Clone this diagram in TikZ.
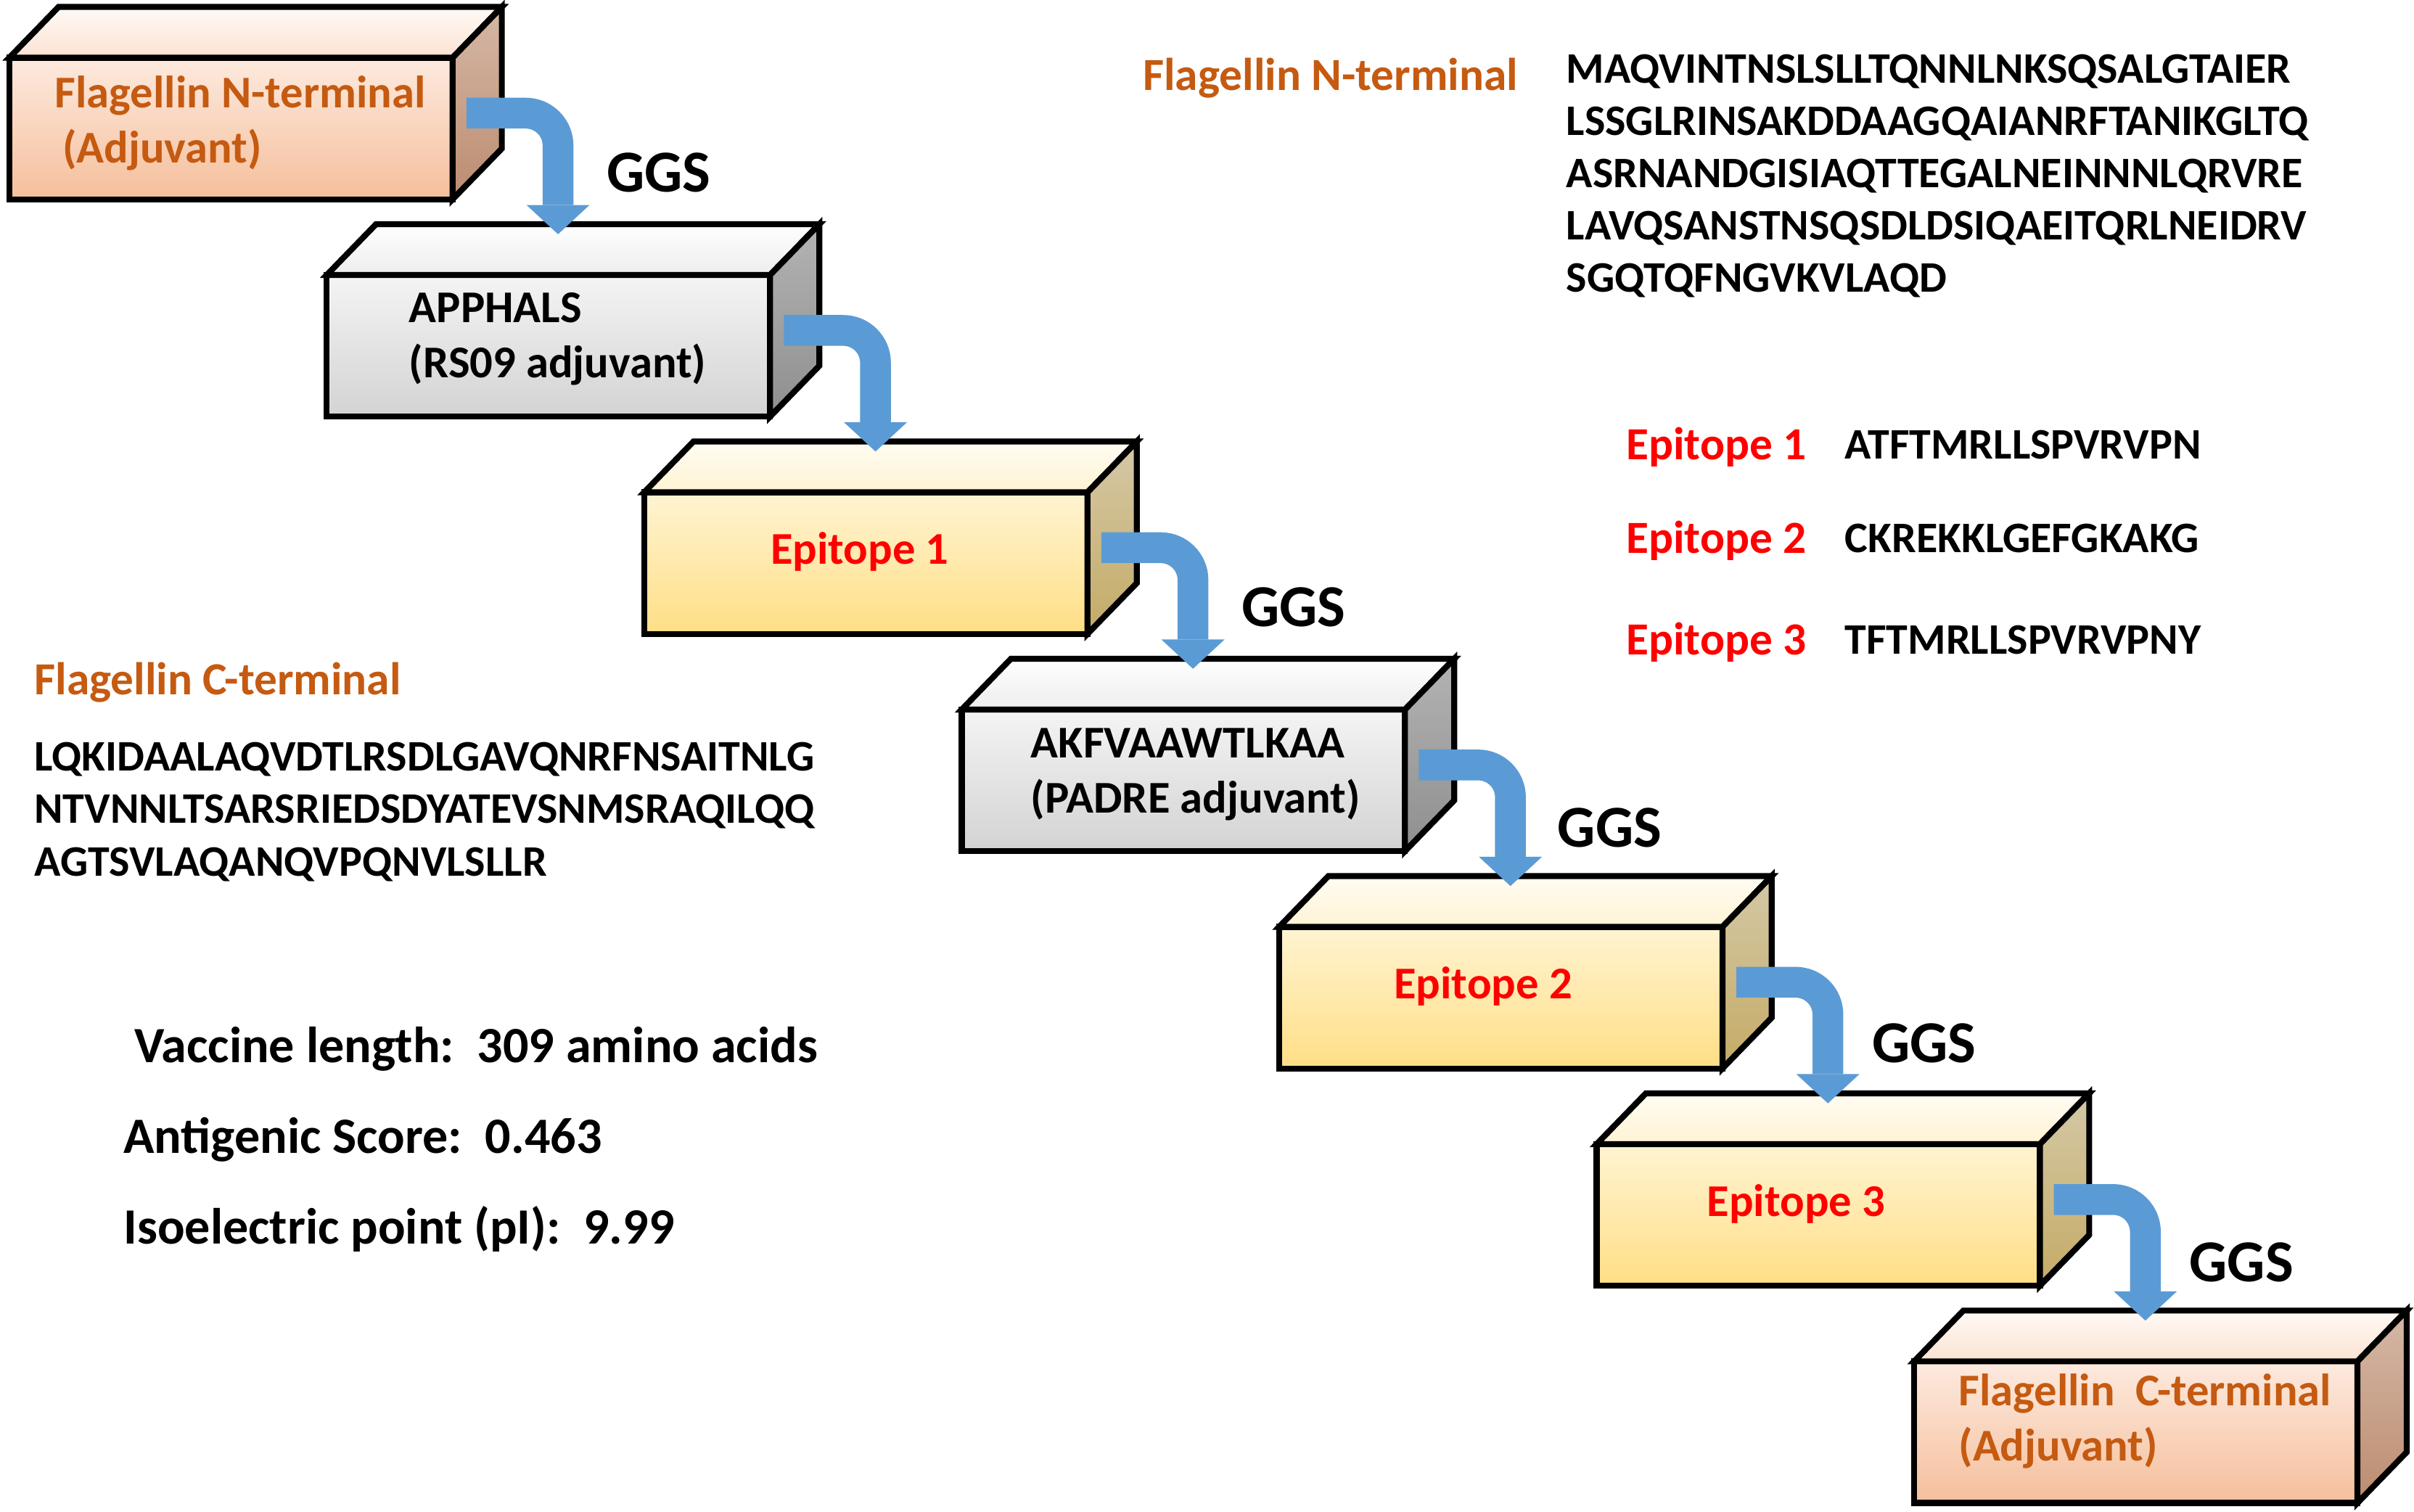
\documentclass[tikz,border=0pt]{standalone}
\usepackage{fontspec}
\setmainfont{Carlito}
\usetikzlibrary{positioning,arrows.meta}

\definecolor{flagorange}{HTML}{C55A11}
\definecolor{epired}{HTML}{FF0000}
\definecolor{ggsblue}{HTML}{5B9BD5}
\definecolor{orfront1}{HTML}{FDEADF}
\definecolor{orfront2}{HTML}{F5BF9B}
\definecolor{ortop1}{HTML}{FFFAF6}
\definecolor{ortop2}{HTML}{FBE2D2}
\definecolor{orside1}{HTML}{D5B8A6}
\definecolor{orside2}{HTML}{BC8C70}
\definecolor{gyfront1}{HTML}{F4F4F4}
\definecolor{gyfront2}{HTML}{D3D3D3}
\definecolor{gytop1}{HTML}{FFFFFF}
\definecolor{gytop2}{HTML}{EDEDED}
\definecolor{gyside1}{HTML}{B3B3B3}
\definecolor{gyside2}{HTML}{8F8F8F}
\definecolor{ylfront1}{HTML}{FFF4D2}
\definecolor{ylfront2}{HTML}{FFDE85}
\definecolor{yltop1}{HTML}{FFFCF2}
\definecolor{yltop2}{HTML}{FFF3D4}
\definecolor{ylside1}{HTML}{D4C8A6}
\definecolor{ylside2}{HTML}{C4AB66}

% top and right faces of a block; #2 is the colour prefix
\newcommand{\blockfaces}[2]{%
  \path[draw=black,line width=2.2pt,top color=#2top1,bottom color=#2top2]
    (#1.north west) -- ++(0.64cm,0.66cm) -- ([shift={(0.64cm,0.66cm)}]#1.north east) -- (#1.north east) -- cycle;
  \path[draw=black,line width=2.2pt,top color=#2side1,bottom color=#2side2]
    (#1.north east) -- ++(0.64cm,0.66cm) -- ([shift={(0.64cm,0.66cm)}]#1.south east) -- (#1.south east) -- cycle;
}
% lifts the text of a block a little
\tikzset{lift/.style={execute at end node={\rule[-#1]{0pt}{0pt}}}}

\begin{document}
\begin{tikzpicture}[x=0.02cm,y=-0.02cm,node distance=2.8233cm]
    \tikzstyle{block}=[rectangle,draw=black,line width=2.2pt,outer sep=0pt,minimum width=5.76cm,minimum height=1.84cm,align=left,font=\bfseries\fontsize{16.8}{20.4}\selectfont]
    \tikzstyle{orblock}=[block,top color=orfront1,bottom color=orfront2,text=flagorange]
    \tikzstyle{gyblock}=[block,top color=gyfront1,bottom color=gyfront2,text=black]
    \tikzstyle{ylblock}=[block,top color=ylfront1,bottom color=ylfront2,text=epired,lift=0.38cm]
    \tikzstyle{link}=[draw=ggsblue,line width=0.4cm,rounded corners=0.42cm,-{Triangle[length=0.38cm,width=0.82cm,line width=0pt]}]
    \tikzstyle{ggs}=[font=\bfseries\fontsize{22}{26}\selectfont]
    \tikzstyle{seq}=[align=left,inner sep=0pt,font=\bfseries\fontsize{16.1}{19.35}\selectfont]
    \tikzstyle{lab}=[inner sep=0pt,anchor=base west,font=\bfseries\fontsize{17}{20}\selectfont]
    \tikzstyle{stat}=[inner sep=0pt,anchor=base west,font=\bfseries\fontsize{18.8}{22}\selectfont]

    \useasboundingbox (0,0) rectangle (1568,982);

    % staircase of blocks
    \node[orblock,lift=0.23cm](b1) at (150,83.5){\hspace*{0.24cm}Flagellin N-terminal\\\hspace*{0.34cm}(Adjuvant)};
    \node[gyblock,lift=0.27cm,below of=b1,xshift=4.125cm](b2){\hspace*{0.24cm}APPHALS\\\hspace*{0.24cm}(RS09 adjuvant)};
    \node[ylblock,below of=b2,xshift=4.125cm](b3){Epitope 1\hspace*{0.16cm}};
    \node[gyblock,lift=0.25cm,below of=b3,xshift=4.125cm](b4){\hspace*{0.32cm}AKFVAAWTLKAA\\\hspace*{0.32cm}(PADRE adjuvant)};
    \node[ylblock,below of=b4,xshift=4.125cm](b5){Epitope 2\hspace*{0.46cm}};
    \node[ylblock,below of=b5,xshift=4.125cm](b6){Epitope 3\hspace*{0.58cm}};
    \node[orblock,lift=0.39cm,below of=b6,xshift=4.125cm](b7){\hspace*{0.24cm}Flagellin\ \ C-terminal\\\hspace*{0.24cm}(Adjuvant)};

    \blockfaces{b1}{or}
    \blockfaces{b2}{gy}
    \blockfaces{b3}{yl}
    \blockfaces{b4}{gy}
    \blockfaces{b5}{yl}
    \blockfaces{b6}{yl}
    \blockfaces{b7}{or}

    % GGS linkers
    \draw[link] ([xshift=0.18cm,yshift=0.2cm]b1.east) -| ([xshift=0.125cm,yshift=0.53cm]b2.north);
    \draw[link] ([xshift=0.18cm,yshift=0.2cm]b2.east) -| ([xshift=0.125cm,yshift=0.53cm]b3.north);
    \draw[link] ([xshift=0.18cm,yshift=0.2cm]b3.east) -| ([xshift=0.125cm,yshift=0.53cm]b4.north);
    \draw[link] ([xshift=0.18cm,yshift=0.2cm]b4.east) -| ([xshift=0.125cm,yshift=0.53cm]b5.north);
    \draw[link] ([xshift=0.18cm,yshift=0.2cm]b5.east) -| ([xshift=0.125cm,yshift=0.53cm]b6.north);
    \draw[link] ([xshift=0.18cm,yshift=0.2cm]b6.east) -| ([xshift=0.125cm,yshift=0.53cm]b7.north);

    \node[ggs](g1) at ([xshift=2.68cm,yshift=0.35cm]b1.south east){GGS};
    \node[ggs](g3) at ([xshift=2.68cm,yshift=0.35cm]b3.south east){GGS};
    \node[ggs](g4) at ([xshift=2.66cm,yshift=0.3cm]b4.south east){GGS};
    \node[ggs](g5) at ([xshift=2.62cm,yshift=0.33cm]b5.south east){GGS};
    \node[ggs](g6) at ([xshift=2.62cm,yshift=0.3cm]b6.south east){GGS};

    % sequences
    \node[lab,text=flagorange](ntitle) at (742,58.5){Flagellin N-terminal};
    \node[seq,anchor=north west](nseq) at (1017,35){MAQVINTNSLSLLTQNNLNKSQSALGTAIER\\LSSGLRINSAKDDAAGQAIANRFTANIKGLTQ\\ASRNANDGISIAQTTEGALNEINNNLQRVRE\\LAVQSANSTNSQSDLDSIQAEITQRLNEIDRV\\SGQTQFNGVKVLAQD};

    \node[lab,text=epired](e1lab) at (1056,298.5){Epitope 1};
    \node[seq,anchor=base west](e1seq) at (1198,298){ATFTMRLLSPVRVPN};
    \node[lab,text=epired](e2lab) at (1056,359.5){Epitope 2};
    \node[seq,anchor=base west](e2seq) at (1198,359){CKREKKLGEFGKAKG};
    \node[lab,text=epired](e3lab) at (1056,425.5){Epitope 3};
    \node[seq,anchor=base west](e3seq) at (1198,425){TFTMRLLSPVRVPNY};

    \node[lab,text=flagorange](ctitle) at (22,451.5){Flagellin C-terminal};
    \node[seq,anchor=north west](cseq) at (22,482){LQKIDAALAQVDTLRSDLGAVQNRFNSAITNLG\\NTVNNLTSARSRIEDSDYATEVSNMSRAQILQQ\\AGTSVLAQANQVPQNVLSLLR};

    % vaccine properties
    \node[stat](vlen) at (87,690){Vaccine length:\ \ 309 amino acids};
    \node[stat](ascore) at (80,749){Antigenic Score:\ \ 0.463};
    \node[stat](ipoint) at (80,808){Isoelectric point (pI):\ \ 9.99};
\end{tikzpicture}
\end{document}
